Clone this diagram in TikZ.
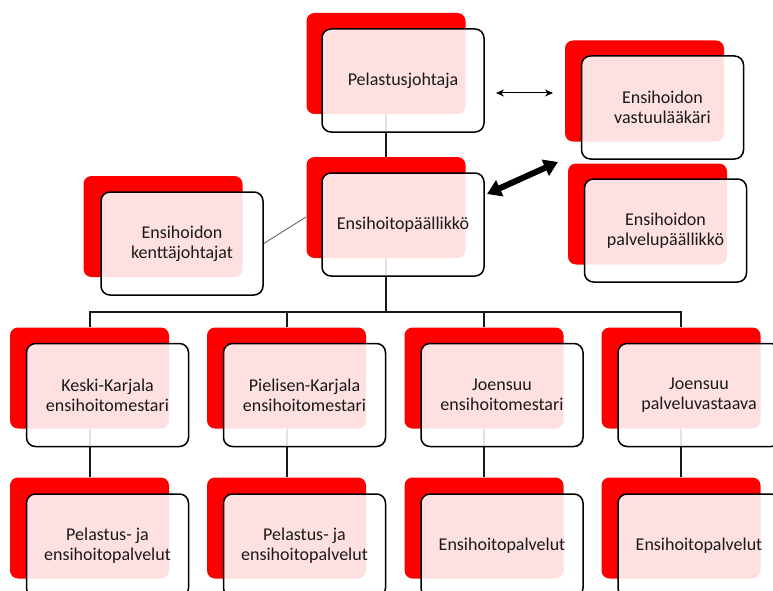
\documentclass[tikz,border=0pt]{standalone}
\usepackage{fontspec}
\setmainfont{Carlito}
\usetikzlibrary{arrows.meta}
\definecolor{txt}{HTML}{1A1A1A}
\tikzset{
 redbox/.style={fill=red, draw=none, rounded corners=8pt, minimum width=159pt, minimum height=101pt, inner sep=0pt},
 frontbox/.style={draw=black, line width=1.5pt, fill=white, fill opacity=0.88, text opacity=1, rounded corners=9pt, minimum width=162pt, minimum height=103pt, inner sep=0pt, align=center, text=txt, font=\fontsize{18}{20}\selectfont},
 conn/.style={draw=black!90, line width=2pt},
 thinconn/.style={draw=black!60, line width=0.9pt},
}
\begin{document}
\begin{tikzpicture}[x=1pt,y=-1pt]
\useasboundingbox (0,0) rectangle (773,591);
\clip (0,0) rectangle (773,591);
% red back boxes
\node[redbox] (pjR) at (386,63.5) {};
\node[redbox] (epR) at (386,207.5) {};
\node[redbox] (kjR) at (163,226.5) {};
\node[redbox] (vlR) at (644.5,91) {};
\node[redbox] (ppR) at (647.5,214) {};
\node[redbox] (r1R) at (89.5,378) {};
\node[redbox] (r2R) at (286.5,378) {};
\node[redbox] (r3R) at (484,378) {};
\node[redbox] (r4R) at (681,378) {};
\node[redbox] (s1R) at (89.5,528) {};
\node[redbox] (s2R) at (286.5,528) {};
\node[redbox] (s3R) at (484,528) {};
\node[redbox] (s4R) at (681,528) {};
% tree connectors
\coordinate (bus) at (386,312);
\draw[conn] (pjR.south) -- (epR.north);
\draw[conn] (epR.south) -- (bus);
\draw[conn] (r1R.north) |- (bus);
\draw[conn] (r2R.north) |- (bus);
\draw[conn] (r3R.north) |- (bus);
\draw[conn] (r4R.north) |- (bus);
\draw[conn] (r1R.south) -- (s1R.north);
\draw[conn] (r2R.south) -- (s2R.north);
\draw[conn] (r3R.south) -- (s3R.north);
\draw[conn] (r4R.south) -- (s4R.north);
% front boxes
\node[frontbox] (pj) at (403,80.5) {Pelastusjohtaja};
\node[frontbox] (ep) at (403,224.5) {Ensihoitopäällikkö};
\node[frontbox] (kj) at (182,243.5) {Ensihoidon\\kenttäjohtajat};
\node[frontbox] (vl) at (662.5,107.5) {Ensihoidon\\vastuulääkäri};
\node[frontbox] (pp) at (665.5,230.5) {Ensihoidon\\palvelupäällikkö};
\node[frontbox] (r1) at (107.5,395) {Keski-Karjala\\ensihoitomestari};
\node[frontbox] (r2) at (304.5,395) {Pielisen-Karjala\\ensihoitomestari};
\node[frontbox] (r3) at (502,395) {Joensuu\\ensihoitomestari};
\node[frontbox] (r4) at (699,395) {Joensuu\\palveluvastaava};
\node[frontbox] (s1) at (107.5,545.5) {Pelastus- ja\\ensihoitopalvelut};
\node[frontbox] (s2) at (304.5,545.5) {Pelastus- ja\\ensihoitopalvelut};
\node[frontbox] (s3) at (502,545.5) {Ensihoitopalvelut};
\node[frontbox] (s4) at (699,545.5) {Ensihoitopalvelut};
% side connectors
\coordinate (kjend) at (306,217);
\draw[thinconn] (kj.east) -- (kjend);
\coordinate (a1) at (496,93);
\coordinate (a2) at (553,93);
\draw[line width=1pt, {Stealth[length=8pt,width=7pt]}-{Stealth[length=8pt,width=7pt]}] (a1) -- (a2);
\coordinate (b1) at (487,194);
\coordinate (b2) at (558,162);
\draw[line width=6pt, {Triangle[length=14pt,width=17pt]}-{Triangle[length=14pt,width=17pt]}] (b1) -- (b2);
\end{tikzpicture}
\end{document}
